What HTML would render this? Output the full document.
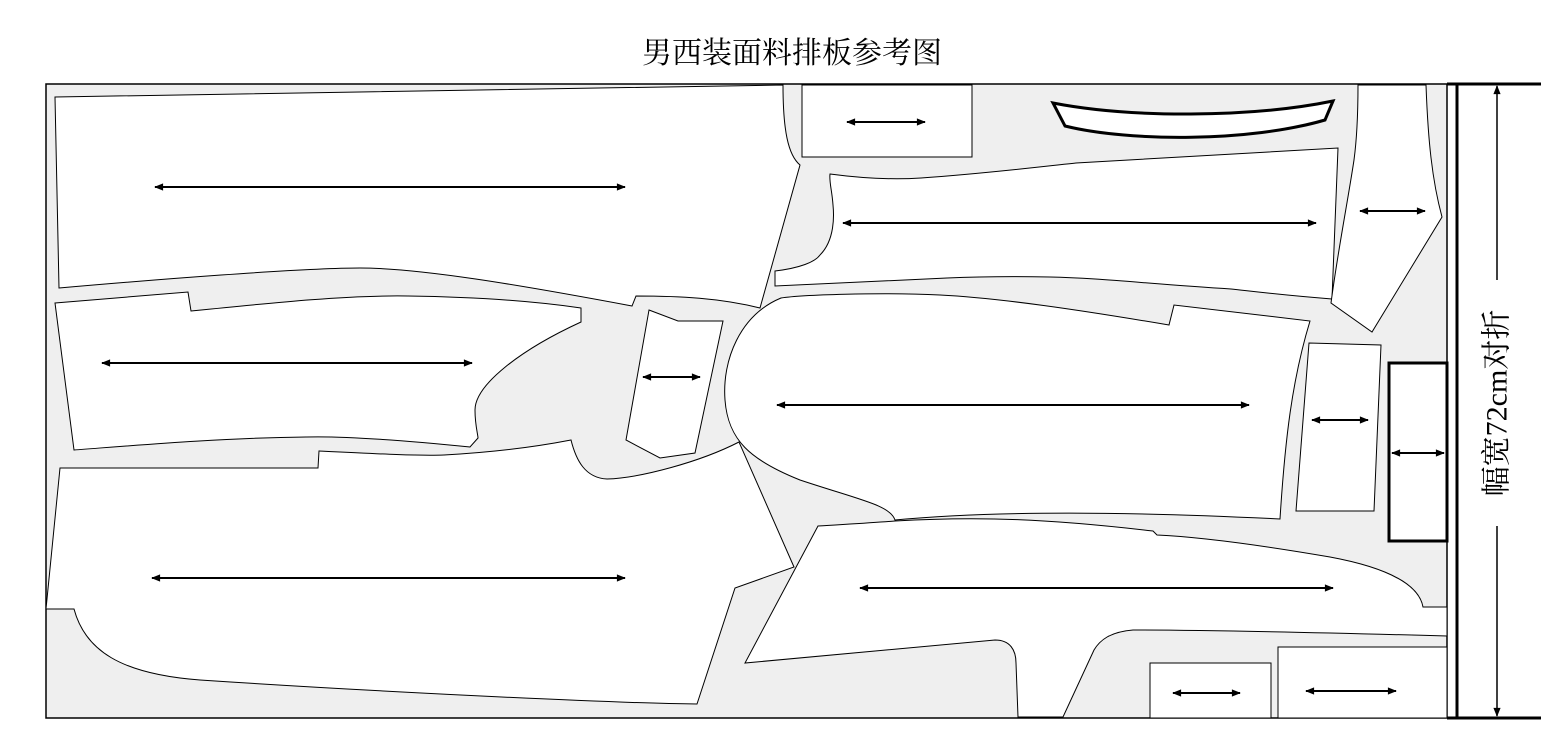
<!DOCTYPE html>
<html><head><meta charset="utf-8"><style>
html,body{margin:0;padding:0;background:#fff;}
svg{display:block;}
text{font-family:"Liberation Serif","Noto Serif CJK SC","Noto Sans CJK SC",serif;}
</style></head><body>
<svg width="1545" height="744" viewBox="0 0 1545 744" xmlns="http://www.w3.org/2000/svg">
<defs>
<marker id="ae" viewBox="0 0 10 10" refX="9" refY="5" markerWidth="13" markerHeight="9" markerUnits="userSpaceOnUse" orient="auto-start-reverse"><path d="M0,1 L10,5 L0,9 Z" fill="#000"/></marker>
</defs>
<text x="792" y="63" font-size="30" text-anchor="middle">男西装面料排板参考图</text>
<rect x="46" y="84" width="1401" height="634" fill="#efefef" stroke="#000" stroke-width="1.5"/>
<g fill="#fff" stroke="#000" stroke-width="1">
<path d="M55,97 L783,85 C783,130 788,155 800,165 L760,308 C720,298 680,296 636,296 L632,306 C520,285 420,268 360,268 C300,268 150,280 59,288 Z"/>
<path d="M55,303 L188,292 L191,311 C280,302 350,295 408,296 C480,297 540,302 581,308 L581,322 C520,350 475,385 475,410 C475,425 478,435 478,438 L470,447 C400,440 340,436 306,437 C220,438 140,445 74,450 Z"/>
<path d="M60,468 L318,468 L319,451 C380,454 420,456 444,455 C500,452 540,446 571,440 C576,460 585,478 607,479 C640,478 700,462 739,442 L794,567 L735,588 L697,704 C600,703 350,690 200,680 C120,674 85,650 74,609 L46,609 Z"/>
<path d="M649,310 L678,321 L723,321 L695,453 L660,458 L626,440 Z"/>
<rect x="802" y="85" width="170" height="72"/>
<path d="M830,174 C860,178 890,180 921,178 C980,174 1030,168 1076,163 L1338,148 L1332,299 C1280,295 1250,291 1231,289 C1150,284 1100,278 1050,277 C1000,276 970,277 947,278 L775,286 L775,271 C800,268 815,262 820,255 C835,240 834,215 833,205 C832,190 829,182 830,174 Z"/>
<path d="M1358,85 L1426,85 C1428,140 1432,180 1442,217 L1372,332 L1331,303 C1338,250 1348,200 1354,160 C1358,130 1358,100 1358,85 Z"/>
<path d="M781,298 C740,315 722,360 725,400 C728,440 750,460 800,480 C860,500 890,505 895,520 C980,512 1100,510 1280,519 C1285,440 1292,380 1310,321 L1174,305 L1169,325 C1080,310 1000,298 940,295 C880,292 800,295 781,298 Z"/>
<path d="M1309,343 L1381,345 L1374,511 L1296,511 Z"/>
<path d="M818,526 C850,524 870,523 895,521 C980,516 1050,519 1153,531 L1157,535 C1200,537 1260,545 1330,557 C1400,570 1420,590 1423,607 L1447,607 L1447,636 C1300,632 1200,630 1133,630 C1110,632 1100,640 1094,650 L1063,717 L1018,717 L1016,663 C1016,650 1010,640 995,640 L745,663 Z"/>
<rect x="1150" y="663" width="121" height="55"/>
<rect x="1278" y="647" width="169" height="71"/>
</g>
<path d="M1053,103 C1130,118 1250,118 1333,101 L1325,120 C1250,142 1130,142 1065,126 Z" fill="#fff" stroke="#000" stroke-width="3"/>
<rect x="1389" y="363" width="58" height="178" fill="#fff" stroke="#000" stroke-width="3"/>
<g stroke="#000" stroke-width="2" marker-start="url(#ae)" marker-end="url(#ae)">
<line x1="155" y1="187" x2="625" y2="187"/>
<line x1="102" y1="363" x2="472" y2="363"/>
<line x1="152" y1="578" x2="625" y2="578"/>
<line x1="643" y1="377" x2="700" y2="377"/>
<line x1="847" y1="122" x2="925" y2="122"/>
<line x1="843" y1="223" x2="1316" y2="223"/>
<line x1="1360" y1="211" x2="1425" y2="211"/>
<line x1="777" y1="405" x2="1249" y2="405"/>
<line x1="1312" y1="420" x2="1368" y2="420"/>
<line x1="1392" y1="453" x2="1444" y2="453"/>
<line x1="860" y1="588" x2="1333" y2="588"/>
<line x1="1173" y1="693" x2="1240" y2="693"/>
<line x1="1306" y1="691" x2="1396" y2="691"/>
</g>
<line x1="1457" y1="84" x2="1457" y2="718" stroke="#000" stroke-width="3"/>
<line x1="1447" y1="84" x2="1541" y2="84" stroke="#000" stroke-width="3"/>
<line x1="1447" y1="718" x2="1541" y2="718" stroke="#000" stroke-width="3"/>
<line x1="1497" y1="86" x2="1497" y2="280" stroke="#000" stroke-width="1.5" marker-start="url(#ae)"/>
<line x1="1497" y1="526" x2="1497" y2="716" stroke="#000" stroke-width="1.5" marker-end="url(#ae)"/>
<text x="1497" y="403" font-size="30" text-anchor="middle" dominant-baseline="central" transform="rotate(-90 1497 403)">幅宽72cm对折</text>
</svg>
</body></html>
